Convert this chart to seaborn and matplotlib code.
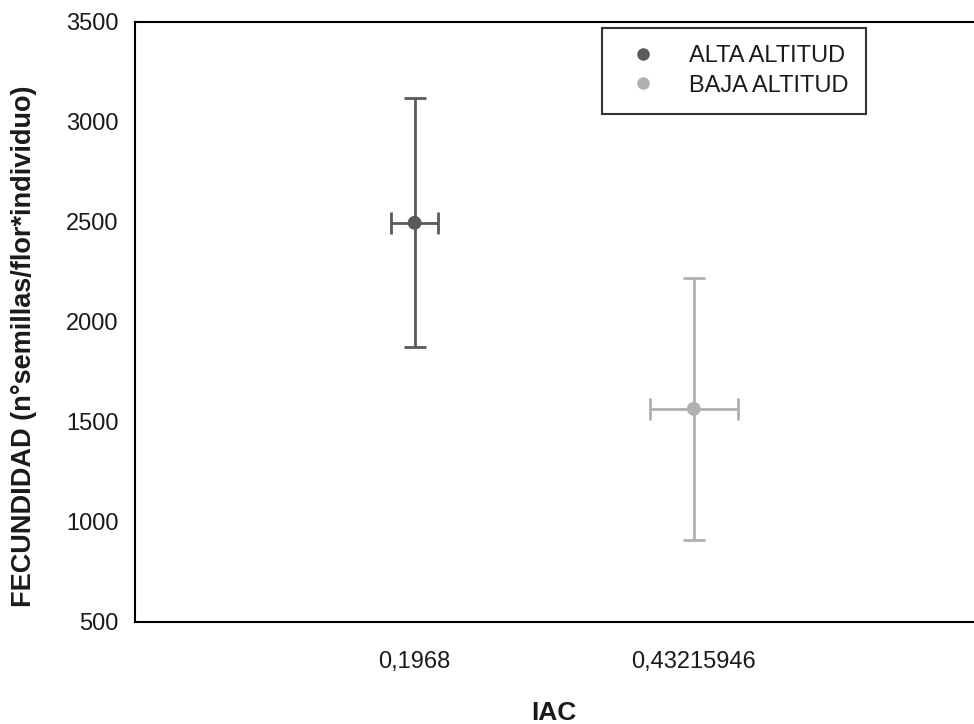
import matplotlib
matplotlib.use("Agg")
import matplotlib.pyplot as plt
import seaborn as sns
import pandas as pd

# Data: seed output per flower and individual at two altitudes
groups = ["ALTA ALTITUD", "BAJA ALTITUD"]
iac_labels = ["0,1968", "0,43215946"]
fecundidad = [2495, 1565]
fecundidad_err = [622, 655]
iac_err = [0.085, 0.157]
colors = ["#5a5a5a", "#b0b0b0"]

sns.set_theme(style="white")
plt.rcParams["font.family"] = ["Liberation Sans", "DejaVu Sans"]

df = pd.DataFrame({
    "grupo": groups,
    "pos": [1, 2],
    "fecundidad": fecundidad,
})

fig = plt.figure(figsize=(9.74, 7.24), dpi=100)
ax = fig.add_axes([0.139, 0.141, 0.86, 0.829])

for i, g in enumerate(groups):
    ax.errorbar(df["pos"][i], fecundidad[i], yerr=fecundidad_err[i], xerr=iac_err[i],
                fmt="none", ecolor=colors[i], elinewidth=2.0, capsize=8,
                capthick=2.0, zorder=2)

sns.scatterplot(data=df, x="pos", y="fecundidad", hue="grupo", palette=colors,
                s=100, edgecolor="none", ax=ax, zorder=3, legend=True)

ax.set_xlim(0, 3)
ax.set_ylim(500, 3500)
ax.set_xticks([1, 2])
ax.set_xticklabels(iac_labels)
ax.set_yticks(range(500, 3501, 500))

for side in ["left", "bottom", "top"]:
    ax.spines[side].set_visible(True)
    ax.spines[side].set_color("black")
    ax.spines[side].set_linewidth(1.5)
ax.spines["right"].set_visible(False)

ax.tick_params(axis="both", which="both", direction="out", length=9, width=1.2,
               color="black", labelsize=17, labelcolor="#1a1a1a")
ax.tick_params(axis="x", pad=12)
ax.tick_params(axis="y", pad=3)
ax.tick_params(top=False, right=False)

ax.set_xlabel("IAC", fontsize=19, fontweight="bold", labelpad=20, color="#1a1a1a")
ax.set_ylabel("FECUNDIDAD (n°semillas/flor*individuo)", fontsize=19.5,
              fontweight="bold", color="#1a1a1a")
ax.yaxis.set_label_coords(-0.118, 0.46)

handles, labels = ax.get_legend_handles_labels()
leg = ax.legend(handles, labels, loc="upper right", bbox_to_anchor=(0.872, 0.99),
                frameon=True, fancybox=False, fontsize=17, handletextpad=1.0,
                handlelength=1.9, borderpad=0.75, labelspacing=0.3,
                markerscale=0.9, borderaxespad=0)
leg.get_frame().set_edgecolor("black")
leg.get_frame().set_linewidth(1.5)
for t in leg.get_texts():
    t.set_color("#1a1a1a")

fig.savefig("out.png", dpi=100)
